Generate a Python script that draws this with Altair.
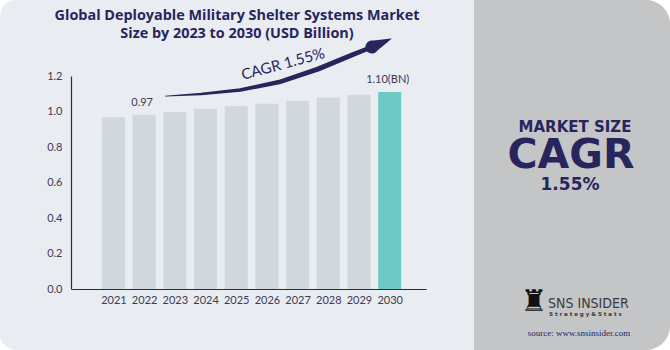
import altair as alt
import pandas as pd

# ---- data ----
years = [2021, 2022, 2023, 2024, 2025, 2026, 2027, 2028, 2029, 2030]
values = [0.967, 0.982, 0.997, 1.016, 1.030, 1.044, 1.061, 1.078, 1.095, 1.110]
highlight = ["no"] * 9 + ["yes"]
label_years = [2022, 2030]
label_values = [0.982, 1.110]
label_texts = ["0.97", "1.10(BN)"]
y_ticks = [0.0, 0.2, 0.4, 0.6, 0.8, 1.0, 1.2]

# decorative CAGR arrow path (year units, value units, stroke width px)
arrow_year = [2022.69, 2023.86, 2025.13, 2026.40, 2027.66, 2028.77, 2029.40, 2029.42, 2030.05]
arrow_value = [1.087, 1.099, 1.121, 1.166, 1.239, 1.318, 1.362, 1.363, 1.410]
arrow_width = [0.8, 2.5, 3.5, 4.5, 5.0, 5.0, 4.5, 13.0, 0.5]

NAVY = "#27255c"
TEXT = "#3b3b55"
FONT = "Lato"

xscale = alt.Scale(domain=[2019.78, 2031.02], nice=False, zero=False)
yscale = alt.Scale(domain=[0, 1.2], nice=False)

one = pd.DataFrame({"k": [0]})

left_panel = alt.Chart(one).mark_rect(color="#e9ecf1", cornerRadius=16).encode(
    x=alt.value(-71), x2=alt.value(420), y=alt.value(-76), y2=alt.value(274)
)
right_panel = alt.Chart(one).mark_rect(
    color="#c4c5c7", cornerRadiusTopRight=24, cornerRadiusBottomRight=24
).encode(x=alt.value(403), x2=alt.value(599), y=alt.value(-76), y2=alt.value(274))

axis_style = dict(
    grid=False, ticks=False, title=None, domainColor=NAVY, domainWidth=1.2,
    labelColor=TEXT, labelFont=FONT, labelFontSize=11, labelOverlap=False,
    tickCount=30, zindex=2,
)

bars_df = pd.DataFrame({"year": years, "value": values, "hl": highlight})
bars = alt.Chart(bars_df).mark_bar(width=23).encode(
    x=alt.X(
        "year:Q",
        scale=xscale,
        axis=alt.Axis(values=years, format="d", labelPadding=5, labelFlush=False, **axis_style),
    ),
    y=alt.Y(
        "value:Q",
        scale=yscale,
        axis=alt.Axis(values=y_ticks, format=".1f", labelPadding=9, **axis_style),
    ),
    color=alt.Color("hl:N", scale=alt.Scale(domain=["no", "yes"], range=["#d0d7dd", "#6dc9c3"]), legend=None),
)

lab_df = pd.DataFrame({"year": label_years, "value": label_values, "t": label_texts})
labels = alt.Chart(lab_df).mark_text(
    dy=-7, dx=-2, baseline="bottom", font=FONT, fontSize=11, color=TEXT
).encode(
    x=alt.X("year:Q", scale=xscale), y=alt.Y("value:Q", scale=yscale), text="t:N"
)

arrow_df = pd.DataFrame({"ay": arrow_year, "av": arrow_value, "w": arrow_width,
                         "i": list(range(len(arrow_year)))})
arrow = alt.Chart(arrow_df).mark_trail(color=NAVY).encode(
    x=alt.X("ay:Q", scale=xscale),
    y=alt.Y("av:Q", scale=yscale),
    size=alt.Size("w:Q", scale=None, legend=None),
    order="i:Q",
)

def txt(t, x, y, size, weight="normal", color=NAVY, font=FONT, angle=0, align="center"):
    return alt.Chart(pd.DataFrame({"t": [t]})).mark_text(
        fontSize=size, fontWeight=weight, color=color, font=font, angle=angle,
        align=align, baseline="middle"
    ).encode(text="t:N", x=alt.value(x), y=alt.value(y))

ox, oy = 71, 76
texts = [
    txt("Global Deployable Military Shelter Systems Market", 237 - ox, 16 - oy, 14.4, "bold", font="Open Sans"),
    txt("Size by 2023 to 2030 (USD Billion)", 237 - ox, 34 - oy, 14.4, "bold", font="Open Sans"),
    txt("CAGR 1.55%", 283 - ox, 64 - oy, 15, "normal", angle=345),
    txt("MARKET SIZE", 575 - ox, 127 - oy, 15, "bold", font="DejaVu Sans"),
    txt("CAGR", 571 - ox, 156 - oy, 41, "bold", font="DejaVu Sans"),
    txt("1.55%", 570 - ox, 185 - oy, 17, "bold", font="DejaVu Sans"),
    txt("♜", 534 - ox, 302 - oy, 30, "normal", color="#111111", font="DejaVu Sans"),
    txt("SNS INSIDER", 548 - ox, 304 - oy, 14, "normal", color="#3a3a3a", font="DejaVu Sans Condensed", align="left"),
    txt("S t r a t e g y   &   S t a t s", 549 - ox, 314 - oy, 5.5, "bold", color="#3a3a3a", font="DejaVu Sans", align="left"),
    txt("source: www.snsinsider.com", 579 - ox, 333 - oy, 9, "normal", color=NAVY, font="Liberation Serif"),
]

chart = alt.layer(left_panel, right_panel, bars, labels, arrow, *texts).properties(
    width=355, height=213,
    padding={"left": 71, "top": 76, "right": 244, "bottom": 61},
    autosize=alt.AutoSizeParams(type="none"),
    background="white",
).configure_view(stroke=None)

chart.save("out.html", embed_options={"renderer": "svg", "actions": False})
